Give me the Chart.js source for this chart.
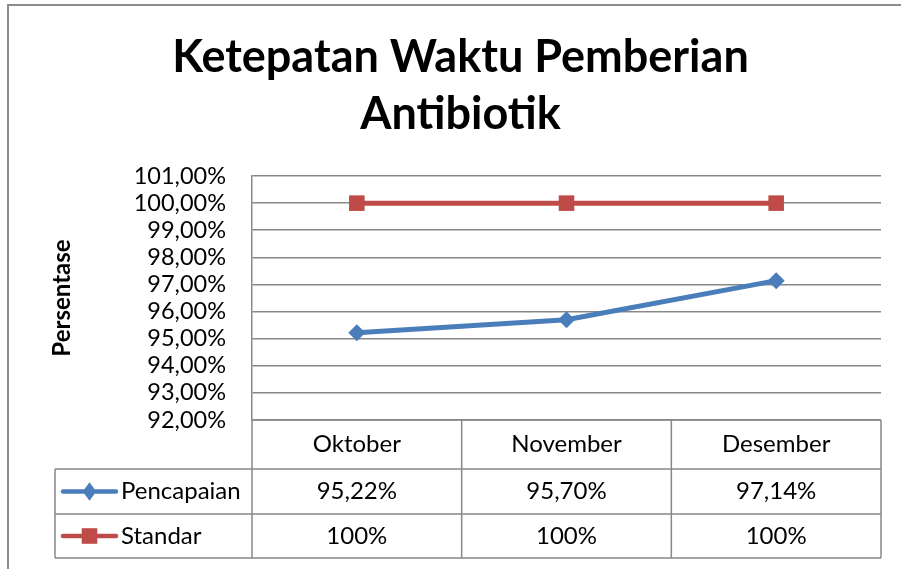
<!DOCTYPE html>
<html>
<head>
<meta charset="utf-8">
<script src="https://cdn.jsdelivr.net/npm/chart.js@4/dist/chart.umd.min.js"></script>
<style>
  html, body { margin: 0; padding: 0; background: #ffffff; }
  #wrap { position: relative; width: 901px; height: 569px; }
</style>
</head>
<body>
<div id="wrap"><canvas id="c" width="901" height="569"></canvas></div>
<script>
// ---- data ----
const categories = ['Oktober', 'November', 'Desember'];
const pencapaian = [95.22, 95.70, 97.14];
const standar = [100, 100, 100];
const pencapaianLabels = ['95,22%', '95,70%', '97,14%'];
const standarLabels = ['100%', '100%', '100%'];
const seriesNames = ['Pencapaian', 'Standar'];
const titleLines = ['Ketepatan Waktu Pemberian', 'Antibiotik'];
const yTitle = 'Persentase';

const FONT = 'Lato, "Open Sans", sans-serif';
const GRID = '#888888';
const BLUE = '#4A7EBB';
const RED = '#BE4B48';

function fmtTick(v) {
  return v.toFixed(2).replace('.', ',') + '%';
}

function drawMarker(ctx, style, x, y, r, color) {
  ctx.save();
  ctx.fillStyle = color;
  ctx.beginPath();
  if (style === 'rectRot') {
    ctx.moveTo(x, y - r * 1.15);
    ctx.lineTo(x + r * 0.85, y);
    ctx.lineTo(x, y + r * 1.15);
    ctx.lineTo(x - r * 0.85, y);
    ctx.closePath();
  } else {
    const s = r * Math.SQRT1_2;
    ctx.rect(x - s, y - s, 2 * s, 2 * s);
  }
  ctx.fill();
  ctx.restore();
}

const framePlugin = {
  id: 'frame',
  beforeDraw(chart) {
    const ctx = chart.ctx;
    ctx.save();
    ctx.strokeStyle = '#8c8c8c';
    ctx.lineWidth = 2;
    ctx.beginPath();
    ctx.moveTo(8, 569);
    ctx.lineTo(8, 5);
    ctx.lineTo(901, 5);
    ctx.stroke();
    ctx.restore();
  }
};

const tablePlugin = {
  id: 'dataTable',
  afterDraw(chart) {
    const ctx = chart.ctx;
    const area = chart.chartArea;
    const xs = chart.scales.x;
    const n = categories.length;
    const colW = (area.right - area.left) / n;
    const legendLeft = 55;
    const y0 = area.bottom;         // top of header row
    const y1 = y0 + 49;             // header bottom
    const y2 = y1 + 45;             // row 1 bottom
    const y3 = y2 + 44;             // row 2 bottom

    ctx.save();
    ctx.strokeStyle = GRID;
    ctx.lineWidth = 1.5;
    ctx.beginPath();
    ctx.moveTo(area.left, y0); ctx.lineTo(area.right, y0);
    ctx.moveTo(legendLeft, y1); ctx.lineTo(area.right, y1);
    ctx.moveTo(legendLeft, y2); ctx.lineTo(area.right, y2);
    ctx.moveTo(legendLeft, y3); ctx.lineTo(area.right, y3);
    for (let k = 0; k <= n; k++) {
      const x = area.left + k * colW;
      ctx.moveTo(x, y0); ctx.lineTo(x, y3);
    }
    ctx.moveTo(legendLeft, y1); ctx.lineTo(legendLeft, y3);
    ctx.stroke();

    ctx.fillStyle = '#000000';
    ctx.font = '24px ' + FONT;
    ctx.textAlign = 'center';
    ctx.textBaseline = 'middle';
    for (let i = 0; i < n; i++) {
      const cx = xs.getPixelForValue(i);
      ctx.fillText(categories[i], cx, (y0 + y1) / 2);
      ctx.fillText(pencapaianLabels[i], cx, (y1 + y2) / 2);
      ctx.fillText(standarLabels[i], cx, (y2 + y3) / 2);
    }

    const keys = [
      {name: seriesNames[0], color: BLUE, style: 'rectRot', y: (y1 + y2) / 2},
      {name: seriesNames[1], color: RED, style: 'rect', y: (y2 + y3) / 2}
    ];
    keys.forEach(k => {
      ctx.strokeStyle = k.color;
      ctx.lineWidth = 4.5;
      ctx.lineCap = 'round';
      ctx.beginPath();
      ctx.moveTo(63, k.y); ctx.lineTo(116, k.y);
      ctx.stroke();
      drawMarker(ctx, k.style, 89.5, k.y, k.style === 'rect' ? 11 : 8, k.color);
      ctx.fillStyle = '#000000';
      ctx.textAlign = 'left';
      ctx.fillText(k.name, 121, k.y);
    });
    ctx.restore();
  }
};

new Chart(document.getElementById('c'), {
  type: 'line',
  data: {
    labels: categories,
    datasets: [
      {
        label: seriesNames[0],
        data: pencapaian,
        borderColor: BLUE,
        backgroundColor: BLUE,
        borderWidth: 5,
        pointStyle: 'rectRot',
        pointRadius: 8.5,
        pointBorderWidth: 0,
        tension: 0
      },
      {
        label: seriesNames[1],
        data: standar,
        borderColor: RED,
        backgroundColor: RED,
        borderWidth: 5,
        pointStyle: 'rect',
        pointRadius: 11,
        pointBorderWidth: 0,
        tension: 0
      }
    ]
  },
  options: {
    responsive: false,
    animation: false,
    devicePixelRatio: 1,
    layout: { padding: { left: 40, right: 20, top: 0, bottom: 149 } },
    plugins: {
      legend: { display: false },
      tooltip: { enabled: false },
      title: {
        display: true,
        text: titleLines,
        color: '#000000',
        font: { family: FONT, size: 45, weight: 'bold', lineHeight: 1.267 },
        padding: { top: 29, bottom: 33 }
      }
    },
    scales: {
      x: {
        display: false,
        offset: true
      },
      y: {
        min: 92,
        max: 101,
        afterFit(scale) { scale.width = 212; },
        ticks: {
          stepSize: 1,
          autoSkip: false,
          color: '#000000',
          padding: 26,
          font: { family: FONT, size: 23.5 },
          callback: (v) => fmtTick(v)
        },
        grid: { color: GRID, lineWidth: 1.5, drawTicks: false },
        border: { display: true, color: GRID, width: 1.5 },
        title: {
          display: true,
          text: yTitle,
          color: '#000000',
          font: { family: FONT, size: 24, weight: 'bold', lineHeight: 1.2 },
          padding: { top: 8 }
        }
      }
    }
  },
  plugins: [framePlugin, tablePlugin]
});
</script>
</body>
</html>
